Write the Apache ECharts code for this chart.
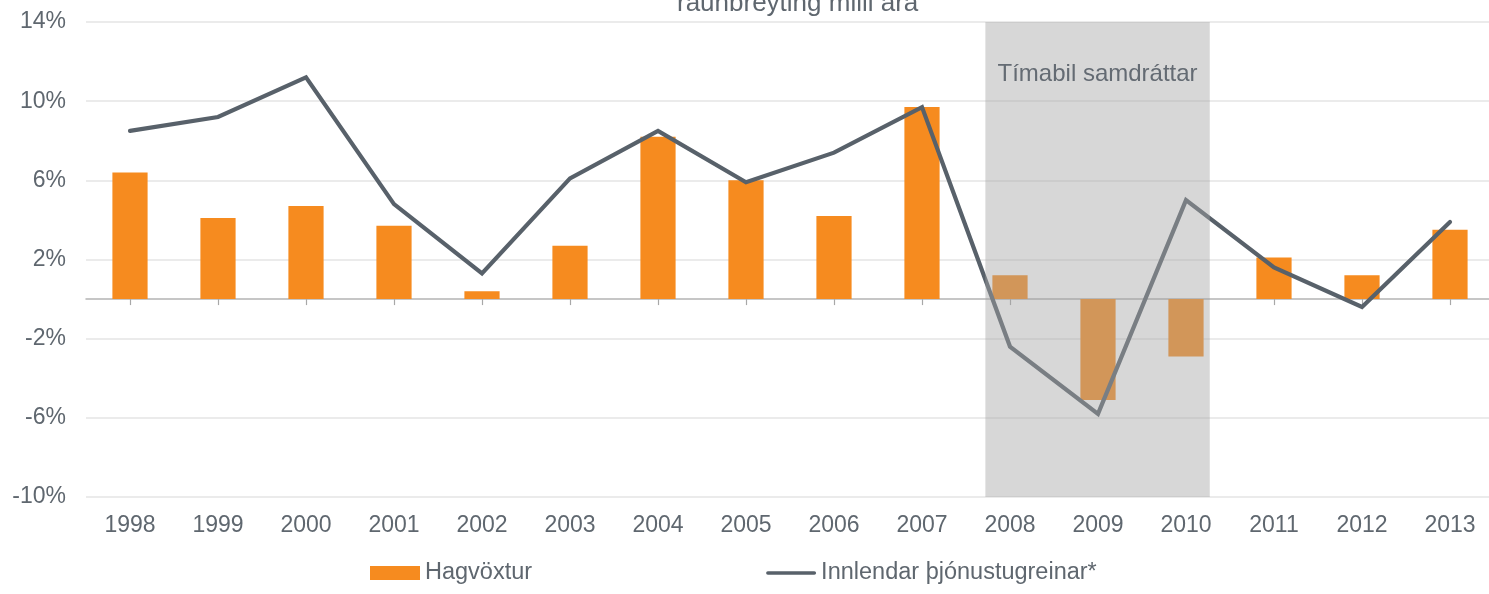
<!DOCTYPE html>
<html>
<head>
<meta charset="utf-8">
<script src="https://cdn.jsdelivr.net/npm/echarts@6/dist/echarts.min.js"></script>
<style>
  html, body { margin: 0; padding: 0; background: #fff; }
  #chart { width: 1489px; height: 594px; }
</style>
</head>
<body>
<div id="chart"></div>
<script>
// ár
var years = ['1998', '1999', '2000', '2001', '2002', '2003', '2004', '2005',
             '2006', '2007', '2008', '2009', '2010', '2011', '2012', '2013'];
// Hagvöxtur, %
var hagvoxtur = [6.4, 4.1, 4.7, 3.7, 0.4, 2.7, 8.2, 6.0, 4.2, 9.7, 1.2, -5.1, -2.9, 2.1, 1.2, 3.5];
// Innlendar þjónustugreinar*, %
var thjonusta = [8.5, 9.2, 11.2, 4.8, 1.3, 6.1, 8.5, 5.9, 7.4, 9.7, -2.4, -5.8, 5.0, 1.6, -0.4, 3.9];
// tímabil samdráttar (staða á flokkaás)
var samdrattur = [9.72, 12.27];

var textColor = '#5f676f';
var font = '"Liberation Sans", Arial, sans-serif';

var chart = echarts.init(document.getElementById('chart'));

var option = {
    animation: false,
    textStyle: { fontFamily: font },
    title: {
        text: 'raunbreyting milli ára',
        left: 672,
        top: -14,
        textStyle: { fontSize: 26, fontWeight: 'normal', color: textColor, fontFamily: font }
    },
    legend: {
        left: 365,
        bottom: 4,
        itemGap: 234,
        itemWidth: 50,
        itemHeight: 14,
        textStyle: { fontSize: 23.5, color: textColor, fontFamily: font },
        data: [
            { name: 'Hagvöxtur', icon: 'rect' },
            { name: 'Innlendar þjónustugreinar*', icon: 'path://M2,0 L54,0 A2,2 0 0 1 54,4 L2,4 A2,2 0 0 1 2,0 Z' }
        ]
    },
    grid: { left: 86, right: -5, top: 22, bottom: 97, outerBoundsMode: 'none', containLabel: false },
    xAxis: [{
        type: 'category',
        data: years,
        axisLine: { onZero: true, lineStyle: { color: '#b4b4b4', width: 1.5 } },
        axisTick: { show: true, alignWithLabel: true, length: 6, lineStyle: { color: '#a8a8a8', width: 1.2 } },
        axisLabel: { show: false }
    }, {
        type: 'category',
        data: years,
        position: 'bottom',
        axisLine: { show: false },
        axisTick: { show: false },
        axisLabel: { fontSize: 23, color: textColor, margin: 17, fontFamily: font }
    }, {
        type: 'value',
        min: -0.5,
        max: 15.5,
        show: false
    }],
    yAxis: {
        type: 'value',
        min: -10,
        max: 14,
        interval: 4,
        axisLine: { show: false },
        axisTick: { show: false },
        axisLabel: {
            formatter: '{value}%',
            fontSize: 23,
            color: textColor,
            margin: 20,
            fontFamily: font
        },
        splitLine: { lineStyle: { color: '#e4e4e4', width: 1.5 } }
    },
    series: [{
        name: 'Hagvöxtur',
        type: 'bar',
        data: hagvoxtur,
        barWidth: '40%',
        itemStyle: { color: '#f68b1f' },
        z: 2
    }, {
        name: 'Innlendar þjónustugreinar*',
        type: 'line',
        xAxisIndex: 1,
        data: thjonusta,
        symbol: 'none',
        lineStyle: { color: '#58616a', width: 4.2, cap: 'round', join: 'miter' },
        itemStyle: { color: '#58616a' },
        z: 3
    }, {
        name: 'samdráttur',
        type: 'line',
        xAxisIndex: 2,
        data: [],
        silent: true,
        clip: false,
        z: 10,
        markArea: {
            silent: true,
            z: 10,
            itemStyle: {
                color: 'rgba(165,165,165,0.44)'
            },
            label: {
                show: true,
                position: 'insideTop',
                distance: 40,
                fontSize: 24,
                color: '#646b73',
                fontFamily: font
            },
            data: [[
                { name: 'Tímabil samdráttar', xAxis: samdrattur[0], yAxis: 14 },
                { xAxis: samdrattur[1], yAxis: -10.25 }
            ]]
        }
    }]
};

chart.setOption(option);
</script>
</body>
</html>
